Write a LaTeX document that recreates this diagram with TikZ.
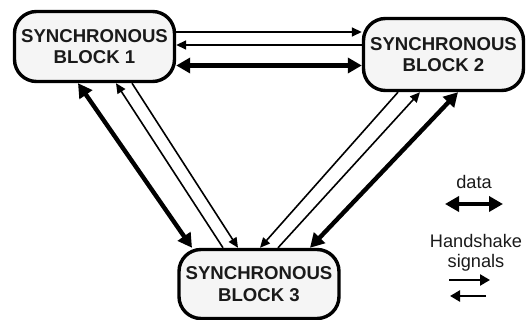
\documentclass[tikz,border=0pt]{standalone}
\usepackage{fontspec}
\setmainfont{Liberation Sans}
\usetikzlibrary{arrows.meta}
\definecolor{boxfill}{RGB}{245,245,245}
\definecolor{ink}{RGB}{26,26,26}
\begin{document}
\begin{tikzpicture}[x=1pt,y=-1pt,
  block/.style={draw=black, line width=3.4pt, fill=boxfill, rounded corners=22pt,
    minimum width=160pt, minimum height=70pt, inner sep=0pt, align=center,
    font=\fontsize{18.6}{21.5}\selectfont\bfseries, text=ink},
  hs/.style={line width=1.6pt, -{Triangle[length=10pt,width=9pt]}},
  dat/.style={line width=4.4pt, {Triangle[length=14pt,width=15pt]}-{Triangle[length=14pt,width=15pt]}},
  legendhs/.style={line width=2.6pt, -{Triangle[length=10pt,width=11pt]}},
  lbl/.style={font=\fontsize{18.2}{20}\selectfont, text=ink, inner sep=0pt}
]
\useasboundingbox (0,0) rectangle (528,320);

% the three synchronous blocks
\node[block] (b1) at (94.5,46.5) {SYNCHRONOUS\\BLOCK 1};
\node[block, minimum height=72pt] (b2) at (443.5,54.5) {SYNCHRONOUS\\BLOCK 2};
\node[block, minimum height=69pt] (b3) at (259,284) {SYNCHRONOUS\\BLOCK 3};

% block 1 <-> block 2
\draw[hs] (b1.east |- 0,32) -- (b2.west |- 0,32);
\draw[hs] (b2.west |- 0,45) -- (b1.east |- 0,45);
\draw[dat] (b1.east |- 0,65.5) -- (b2.west |- 0,65.5);

% block 1 <-> block 3
\draw[dat] (b1.south -| 78,0) -- (b3.north -| 192,0);
\draw[hs] (b3.north -| 223,0) -- (b1.south -| 116,0);
\draw[hs] (b1.south -| 132,0) -- (b3.north -| 238,0);

% block 2 <-> block 3
\draw[hs] (b2.south -| 398,0) -- (b3.north -| 260,0);
\draw[hs] (b3.north -| 278,0) -- (b2.south -| 420,0);
\draw[dat] (b2.south -| 458,0) -- (b3.north -| 310,0);

% legend
\node[lbl, anchor=base] (ldata) at (474,189) {data};
\coordinate (dl) at (445,204);
\coordinate (dr) at (503,204);
\draw[dat] (dl) -- (dr);
\node[lbl, anchor=base] (lhs1) at (476,248) {Handshake};
\node[lbl, anchor=base] (lhs2) at (476,268) {signals};
\coordinate (hl1) at (449,280);
\coordinate (hr1) at (490,280);
\coordinate (hl2) at (450,296);
\coordinate (hr2) at (486,296);
\draw[legendhs] (hl1) -- (hr1);
\draw[legendhs] (hr2) -- (hl2);
\end{tikzpicture}
\end{document}
